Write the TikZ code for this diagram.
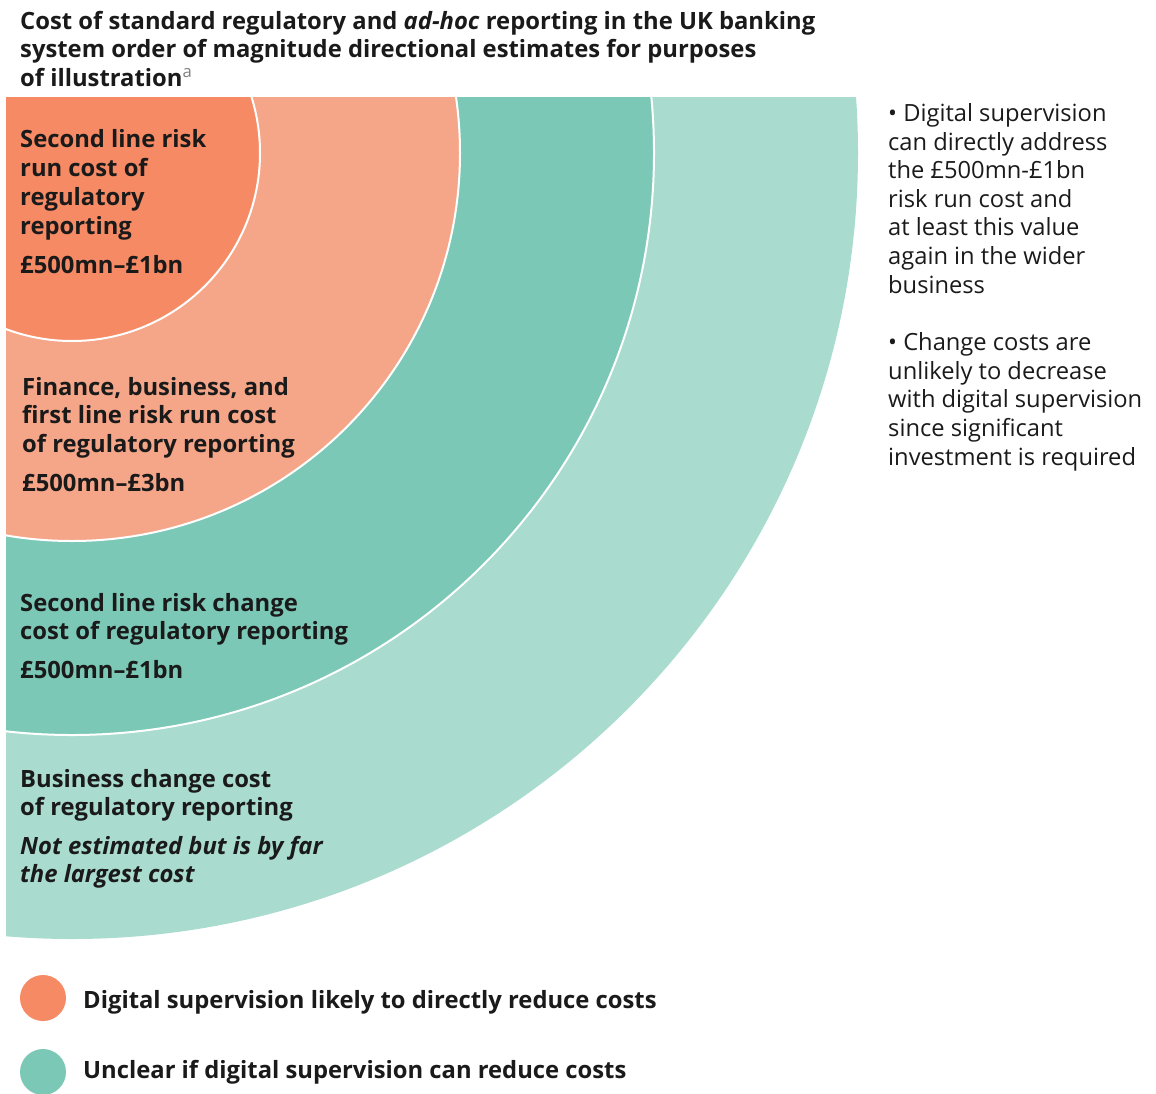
\documentclass[tikz,border=0pt]{standalone}
\usepackage{fontspec}
\setmainfont{Open Sans}
\usetikzlibrary{positioning}

\definecolor{coral}{HTML}{F68A64}
\definecolor{salmon}{HTML}{F6A688}
\definecolor{midteal}{HTML}{7CC8B7}
\definecolor{paleteal}{HTML}{A9DBCF}
\definecolor{inkblack}{HTML}{1A1A1A}

\begin{document}
\begin{tikzpicture}[x=1pt, y=-1pt,
	every node/.style={inner sep=0pt, text=inkblack, anchor=base west, align=left},
	ringtext/.style={font=\bfseries\fontsize{23.8}{28.7}\selectfont},
	sidetext/.style={font=\fontsize{23.7}{28.6}\selectfont},
	ring/.style={draw=white, line width=2pt}]
	\useasboundingbox (0,0) rectangle (1156,1093);
	% rings, clipped to the panel
	\begin{scope}
		\clip (6,97) rectangle (1156,1093);
		\fill[paleteal] (72,153) circle (786pt);
		\filldraw[midteal, ring] (72,153) circle (582pt);
		\filldraw[salmon, ring] (72,153) circle (388pt);
		\filldraw[coral, ring] (72,153) circle (188pt);
	\end{scope}
	% title (base = last line)
	\node[ringtext] (title) at (20,86.4) {Cost of standard regulatory and \textit{ad-hoc} reporting in the UK banking\\
		system order of magnitude directional estimates for purposes\\
		of illustration\textsuperscript{\mdseries\color{gray}a}};
	% ring labels
	\node[ringtext] (srhead) at (20,234) {Second line risk\\run cost of\\regulatory\\reporting};
	\node[ringtext] (sramt) at (20,273) {£500mn–£1bn};
	\node[ringtext] (fbhead) at (22,452.4) {Finance, business, and\\first line risk run cost\\of regulatory reporting};
	\node[ringtext] (fbamt) at (22,491) {£500mn–£3bn};
	\node[ringtext] (schead) at (20,639.7) {Second line risk change\\cost of regulatory reporting};
	\node[ringtext] (scamt) at (20,678) {£500mn–£1bn};
	\node[ringtext] (bchead) at (20,815.7) {Business change cost\\of regulatory reporting};
	\node[ringtext, font=\bfseries\itshape\fontsize{23.8}{28.7}\selectfont] (bcnote) at (20,882.7) {Not estimated but is by far\\the largest cost};
	% side notes
	\node[sidetext] (noteone) at (888,293) {• Digital supervision\\can directly address\\the £500mn-£1bn\\risk run cost and\\at least this value\\again in the wider\\business};
	\node[sidetext] (notetwo) at (888,465) {• Change costs are\\unlikely to decrease\\with digital supervision\\since significant\\investment is required};
	% legend
	\fill[coral] (43,998) circle (23pt);
	\node[ringtext] (keyone) at (83,1008) {Digital supervision likely to directly reduce costs};
	\fill[midteal] (43,1072) circle (23pt);
	\node[ringtext] (keytwo) at (83,1078) {Unclear if digital supervision can reduce costs};
\end{tikzpicture}
\end{document}
